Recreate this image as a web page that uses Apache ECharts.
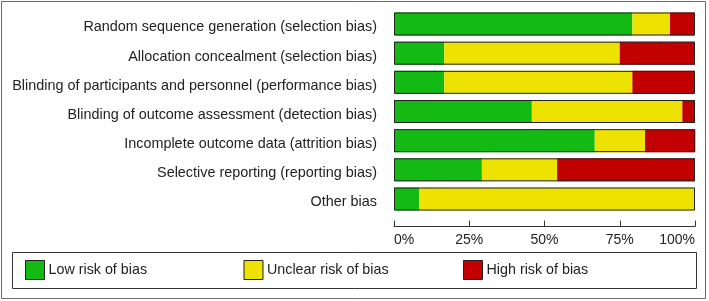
<!DOCTYPE html>
<html>
<head>
<meta charset="utf-8">
<script src="https://cdn.jsdelivr.net/npm/echarts@6/dist/echarts.min.js"></script>
<style>
  html, body { margin: 0; padding: 0; background: #fff; }
  #chart { width: 709px; height: 301px; }
</style>
</head>
<body>
<div id="chart"></div>
<script>
// risk of bias domains, top to bottom
const domains = [
  'Random sequence generation (selection bias)',
  'Allocation concealment (selection bias)',
  'Blinding of participants and personnel (performance bias)',
  'Blinding of outcome assessment (detection bias)',
  'Incomplete outcome data (attrition bias)',
  'Selective reporting (reporting bias)',
  'Other bias'
]
// percent of studies per judgement
const lowRisk = [79.2, 16.7, 16.7, 45.8, 66.7, 29.2, 8.3]
const unclearRisk = [12.5, 58.3, 62.5, 50.0, 16.7, 25.0, 91.7]
const highRisk = [8.3, 25.0, 20.8, 4.2, 16.7, 45.8, 0]
const totals = lowRisk.map((v, i) => v + unclearRisk[i] + highRisk[i])
const legendNames = ['Low risk of bias', 'Unclear risk of bias', 'High risk of bias']

const font = '"Liberation Sans", Arial, sans-serif'
const textColor = '#222'

let chart = echarts.init(document.getElementById('chart'))

function segment(name, data, color) {
  return {
    name: name,
    type: 'bar',
    stack: 'rob',
    barWidth: 23,
    data: data,
    itemStyle: { color: color },
    emphasis: { disabled: true }
  }
}

function legendAt(name, left) {
  return {
    data: [name],
    left: left,
    top: 260,
    padding: 0,
    itemWidth: 19,
    itemHeight: 19,
    icon: 'rect',
    itemStyle: { borderColor: '#222', borderWidth: 1 },
    selectedMode: false,
    textStyle: { fontFamily: font, fontSize: 14.3, color: textColor, padding: [0, 0, 0, -1] }
  }
}

let option = {
  animation: false,
  textStyle: { fontFamily: font },
  grid: { left: 394, right: 14, top: 9.4, bottom: 87.4 },
  xAxis: {
    type: 'value',
    min: 0,
    max: 100,
    interval: 25,
    offset: 13,
    axisLine: { show: true, lineStyle: { color: '#333', width: 1 } },
    axisTick: { show: true, inside: true, length: 6, lineStyle: { color: '#333' } },
    splitLine: { show: false },
    axisLabel: {
      formatter: '{value}%',
      fontSize: 14,
      color: textColor,
      margin: 7,
      alignMinLabel: 'left',
      alignMaxLabel: 'right'
    }
  },
  yAxis: {
    type: 'category',
    data: domains,
    inverse: true,
    axisLine: { show: false },
    axisTick: { show: false },
    axisLabel: {
      color: textColor,
      margin: 17,
      formatter: (v) => '{d|' + v + '}',
      rich: {
        d: { fontSize: 14.4, fontFamily: font, color: textColor, padding: [7, 0, 0, 0] }
      }
    }
  },
  legend: [
    legendAt(legendNames[0], 25),
    legendAt(legendNames[1], 243.5),
    legendAt(legendNames[2], 463)
  ],
  graphic: [
    {
      type: 'rect',
      shape: { x: 1.5, y: 1.5, width: 704, height: 297 },
      style: { fill: 'none', stroke: '#6b6b6b', lineWidth: 1 },
      silent: true
    },
    {
      type: 'rect',
      shape: { x: 12.5, y: 252.5, width: 684, height: 36 },
      style: { fill: 'none', stroke: '#333', lineWidth: 1 },
      silent: true
    }
  ],
  series: [
    segment(legendNames[0], lowRisk, '#13ba13'),
    segment(legendNames[1], unclearRisk, '#eee300'),
    segment(legendNames[2], highRisk, '#c20000'),
    {
      // outline drawn over each stacked bar
      name: 'outline',
      type: 'bar',
      barWidth: 23,
      barGap: '-100%',
      data: totals,
      itemStyle: { color: 'rgba(0,0,0,0)', borderColor: '#222', borderWidth: 1 },
      emphasis: { disabled: true },
      silent: true,
      z: 3
    }
  ]
}
chart.setOption(option)
</script>
</body>
</html>
